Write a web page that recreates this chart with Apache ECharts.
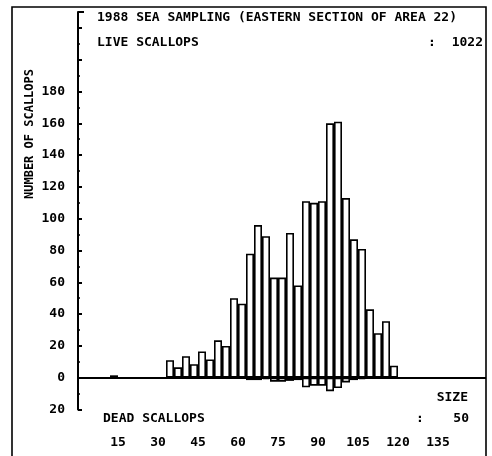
<!DOCTYPE html>
<html>
<head>
<meta charset="utf-8">
<script src="https://cdn.jsdelivr.net/npm/echarts@6/dist/echarts.min.js"></script>
<style>
html,body{margin:0;padding:0;background:#fff;}
#c{width:492px;height:456px;}
</style>
</head>
<body>
<div id="c"></div>
<script>
// size class centres (mm)
const sizes = [13.5, 34.5, 37.5, 40.5, 43.5, 46.5, 49.5, 52.5, 55.5, 58.5, 61.5, 64.5, 67.5, 70.5, 73.5, 76.5, 79.5, 82.5, 85.5, 88.5, 91.5, 94.5, 97.5, 100.5, 103.5, 106.5, 109.5, 112.5, 115.5, 118.5];
const liveCounts = [1.5, 11, 6.5, 13.5, 8.5, 16.5, 11.5, 23.5, 20, 50, 46.5, 78, 96, 89, 63, 63, 91, 58, 111, 110, 111, 160, 161, 113, 87, 81, 43, 28, 35.5, 7.5];
const deadCounts = [0, 0, 0, 0, 0, 0, 0, 0, 0, 0, 0.5, 1.5, 1.5, 1, 2.5, 2.5, 2, 1.5, 6, 5, 5, 8.5, 6.5, 3, 1.5, 1, 0.5, 0, 0, 0];
const xTickLabels = [15, 30, 45, 60, 75, 90, 105, 120, 135];
const yTickLabels = [-20, 0, 20, 40, 60, 80, 100, 120, 140, 160, 180];
const titleText = '1988 SEA SAMPLING (EASTERN SECTION OF AREA 22)';
const liveLabel = 'LIVE SCALLOPS';
const deadLabel = 'DEAD SCALLOPS';
const liveTotal = '1022';
const deadTotal = '50';

const FONT = '"DejaVu Sans Mono", "Liberation Mono", monospace';
const chart = echarts.init(document.getElementById('c'), null, {renderer: 'canvas'});

const liveData = sizes.map((s, i) => [s, liveCounts[i]]);
const deadData = sizes.map((s, i) => [s, -deadCounts[i]]);

const barStyle = {color: '#ffffff', borderColor: '#000000', borderWidth: 1.6};

function txt(x, y, s, align) {
  return {type: 'text', x: x, y: y, style: {text: s, fill: '#000', font: 'bold 13px ' + FONT, textAlign: align || 'left', textVerticalAlign: 'middle'}};
}

chart.setOption({
  animation: false,
  backgroundColor: '#ffffff',
  grid: {left: 78, right: 6, top: 12, bottom: 46.5, containLabel: false},
  xAxis: {
    type: 'value', min: 0, max: 153, interval: 15,
    axisLine: {show: false}, axisTick: {show: false}, splitLine: {show: false},
    axisLabel: {
      margin: 27, color: '#000', fontFamily: FONT, fontWeight: 'bold', fontSize: 13,
      showMaxLabel: false, showMinLabel: false,
      formatter: v => (xTickLabels.indexOf(v) >= 0 ? String(v) : '')
    }
  },
  yAxis: {
    type: 'value', min: -20, max: 230, interval: 20,
    axisLine: {show: true, lineStyle: {color: '#000', width: 2}},
    axisTick: {show: true, inside: true, length: 4, lineStyle: {color: '#000', width: 2}},
    minorTick: {show: true, splitNumber: 2, length: 2, lineStyle: {color: '#000', width: 1.5}},
    splitLine: {show: false},
    axisLabel: {
      margin: 13, color: '#000', fontFamily: FONT, fontWeight: 'bold', fontSize: 13,
      showMaxLabel: false,
      formatter: v => (yTickLabels.indexOf(v) >= 0 ? String(Math.abs(v)) : '')
    }
  },
  series: [
    {
      type: 'bar', name: 'live', data: liveData, barWidth: 8, itemStyle: barStyle,
      markLine: {
        silent: true, symbol: 'none', label: {show: false},
        lineStyle: {color: '#000', width: 2, type: 'solid'},
        data: [{yAxis: 0}]
      }
    },
    {type: 'bar', name: 'dead', data: deadData, barWidth: 8, barGap: '-100%', itemStyle: barStyle}
  ],
  graphic: [
    {type: 'polyline', shape: {points: [[12, 456], [12, 7], [486, 7], [486, 456]]}, style: {stroke: '#000', lineWidth: 1.6, fill: null}},
    {type: 'line', shape: {x1: 78, y1: 12, x2: 84, y2: 12}, style: {stroke: '#000', lineWidth: 2}},
    txt(97, 18, titleText),
    txt(97, 43, liveLabel),
    txt(432, 43, ':', 'center'),
    txt(483, 43, liveTotal, 'right'),
    txt(468, 398, 'SIZE', 'right'),
    txt(103, 419, deadLabel),
    txt(420, 419, ':', 'center'),
    txt(469, 419, deadTotal, 'right'),
    {type: 'text', x: 30, y: 134, rotation: Math.PI / 2,
     style: {text: 'NUMBER OF SCALLOPS', fill: '#000', font: 'bold 12px ' + FONT, textAlign: 'center', textVerticalAlign: 'middle'}}
  ]
});
</script>
</body>
</html>
